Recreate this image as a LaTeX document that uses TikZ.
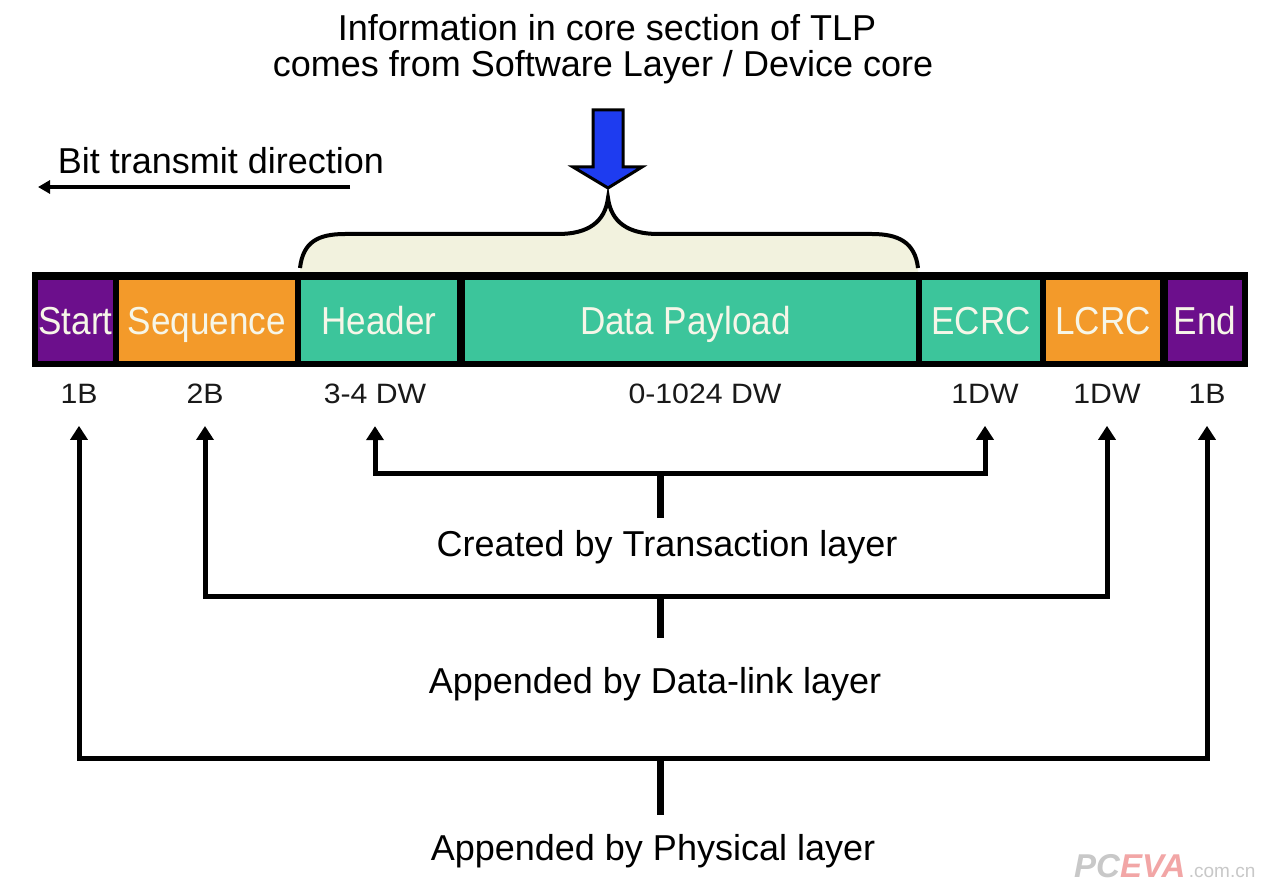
\documentclass[tikz,border=0pt]{standalone}
\usepackage{fontspec}
\setmainfont{Liberation Sans}
\usetikzlibrary{arrows.meta}
\definecolor{cpurple}{HTML}{6C0F8C}
\definecolor{corange}{HTML}{F39A2A}
\definecolor{cteal}{HTML}{3CC59B}
\definecolor{cbeige}{HTML}{F2F2DE}
\definecolor{cblue}{HTML}{1E3CF0}
\definecolor{ctext}{HTML}{F6F6E8}
\definecolor{wmgray}{HTML}{C8C8C8}
\definecolor{wmred}{HTML}{F2A6A6}
\newcommand{\cellt}[1]{\scalebox{0.9}[1]{#1}}
\newcommand{\sizet}[1]{\scalebox{1.08}[1]{#1}}
\begin{document}
\begin{tikzpicture}[x=1pt,y=-1pt,
  cell/.style={rectangle, inner sep=0pt, minimum height=81pt, text height=30pt, text depth=2pt, text=ctext, font=\fontsize{39}{44}\selectfont},
  size/.style={inner sep=0pt, text=black!90, font=\fontsize{28}{32}\selectfont},
  caption/.style={inner sep=0pt, font=\fontsize{36}{42}\selectfont},
  conn/.style={line width=5pt, -{Triangle[length=14pt,width=17pt]}, shorten >=22pt},
  stemline/.style={line width=7pt},
  ]
\useasboundingbox (0,0) rectangle (1276,885);
\fill[white] (0,0) rectangle (1276,885);

% top captions
\node[caption] (info1) at (607,28) {Information in core section of TLP};
\node[caption] (info2) at (603,67) {comes from Software Layer / Device core};

% bit transmit direction
\node[caption] (bit) at (221,161) {Bit transmit direction};
\coordinate (bs) at (350,187);
\coordinate (be) at (38,187);
\draw[line width=4pt, -{Triangle[length=12pt,width=13pt]}] (bs) -- (be);

% blue arrow
\draw[fill=cblue, line width=3pt, line join=miter]
  (593,110) -- (623,110) -- (623,167) -- (642,167) -- (608,188) -- (573,167) -- (593,167) -- cycle;

% brace fill
\fill[cbeige] (300,272) -- (300,268) .. controls (303,242) and (318,234) .. (345,234) -- (558,234)
  .. controls (588,234) and (605,222) .. (608,198)
  .. controls (611,222) and (628,234) .. (658,234) -- (872,234)
  .. controls (898,234) and (915,242) .. (918,268) -- (918,272) -- cycle;

% bar
\node[fill=black, minimum width=1216pt, minimum height=95pt, inner sep=0pt] (bar) at (640,319.5) {};

% brace line
\draw[line width=4pt] (300,268) .. controls (303,242) and (318,234) .. (345,234) -- (558,234)
  .. controls (588,234) and (605,222) .. (608,198)
  .. controls (611,222) and (628,234) .. (658,234) -- (872,234)
  .. controls (898,234) and (915,242) .. (918,268);

% cells
\node[cell, fill=cpurple, minimum width=75pt] (start) at (75.5,320.5) {\cellt{Start}};
\node[cell, fill=corange, minimum width=176pt] (seq) at (207,320.5) {\cellt{Sequence}};
\node[cell, fill=cteal, minimum width=156pt] (header) at (379,320.5) {\cellt{Header}};
\node[cell, fill=cteal, minimum width=451pt] (data) at (690.5,320.5) {\hspace*{-10pt}\cellt{Data Payload}};
\node[cell, fill=cteal, minimum width=118pt] (ecrc) at (981,320.5) {\cellt{ECRC}};
\node[cell, fill=corange, minimum width=114pt] (lcrc) at (1103,320.5) {\cellt{LCRC}};
\node[cell, fill=cpurple, minimum width=74pt] (end) at (1205,320.5) {\cellt{End}};

% size labels
\node[size] (l1) at (79,394) {\sizet{1B}};
\node[size] (l2) at (205,394) {\sizet{2B}};
\node[size] (l3) at (375,394) {\sizet{3-4 DW}};
\node[size] (l4) at (705,394) {\sizet{0-1024 DW}};
\node[size] (l5) at (985,394) {\sizet{1DW}};
\node[size] (l6) at (1107,394) {\sizet{1DW}};
\node[size] (l7) at (1207,394) {\sizet{1B}};

% transaction layer bracket
\coordinate (tj) at (660,473);
\coordinate (tb) at (660,518);
\draw[conn] (tj) -| (l3);
\draw[conn] (tj) -| (l5);
\draw[stemline] (tj) -- (tb);
\node[caption] (ctl) at (667,547) {Created by Transaction layer};

% data-link layer bracket
\coordinate (dj) at (660,596);
\coordinate (db) at (660,638);
\draw[conn] (dj) -| (l2);
\draw[conn] (dj) -| (l6);
\draw[stemline] (dj) -- (db);
\node[caption] (cdl) at (655,684) {Appended by Data-link layer};

% physical layer bracket
\coordinate (pj) at (660,758);
\coordinate (pb) at (660,815);
\draw[conn] (pj) -| (l1);
\draw[conn] (pj) -| (l7);
\draw[stemline] (pj) -- (pb);
\node[caption] (cpl) at (653,851) {Appended by Physical layer};

% watermark
\node[anchor=base west, inner sep=0pt, font=\fontsize{33}{36}\selectfont\bfseries\itshape] (wm) at (1074,877) {\textcolor{wmgray}{PC}\textcolor{wmred}{EVA}};
\node[anchor=base west, inner sep=0pt, font=\fontsize{19}{22}\selectfont, text=wmgray] (wmc) at ([xshift=3pt]wm.base east) {.com.cn};
\end{tikzpicture}
\end{document}
